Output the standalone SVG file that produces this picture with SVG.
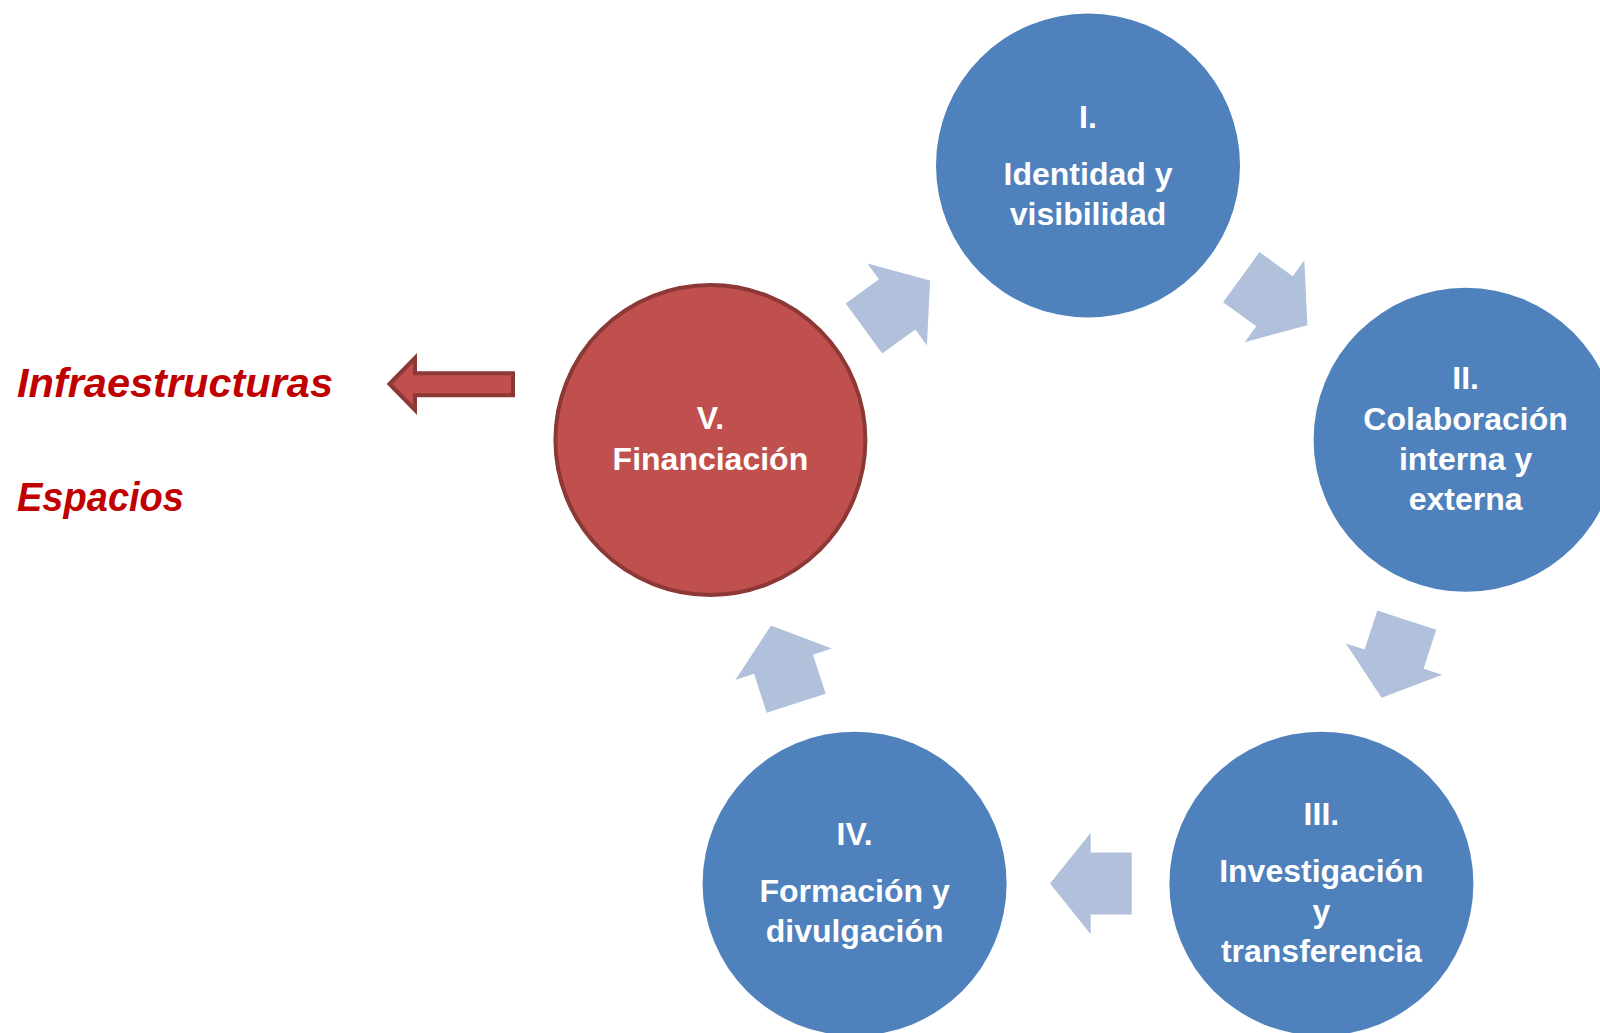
<svg xmlns="http://www.w3.org/2000/svg" xmlns:xlink="http://www.w3.org/1999/xlink" width="1600" height="1033" viewBox="0 0 1600 1033">
  <style>
    .node-blue { fill: #4F81BD; }
    .node-red { fill: #C0504D; stroke: #8C3836; stroke-width: 4; }
    .label { font-family: "Liberation Sans", Arial, sans-serif; font-weight: bold; font-size: 32px; fill: #FFFFFF; text-anchor: middle; }
    .side { font-family: "Liberation Sans", Arial, sans-serif; font-weight: bold; font-style: italic; font-size: 41.5px; fill: #C00000; }
    .cycle-arrow { fill: #B2C1DB; }
    .block-arrow { fill: #C0504D; stroke: #8C3836; stroke-width: 4; stroke-linejoin: miter; }
  </style>
  <defs>
    <!-- one cycle arrow, drawn at the bottom position; the others are rotations about the cycle centre -->
    <polygon id="cycleArrow" class="cycle-arrow" points="1050,883.5 1090.7,832.8 1090.7,852.5 1131.7,852.5 1131.7,914.5 1090.7,914.5 1090.7,934.2"/>
  </defs>
  <rect width="1600" height="1033" fill="#FFFFFF"/>

  <g id="connectors">
    <use xlink:href="#cycleArrow" href="#cycleArrow"/>
    <use xlink:href="#cycleArrow" href="#cycleArrow" transform="rotate(72 1088 562.5)"/>
    <use xlink:href="#cycleArrow" href="#cycleArrow" transform="rotate(144 1088 562.5)"/>
    <use xlink:href="#cycleArrow" href="#cycleArrow" transform="rotate(216 1088 562.5)"/>
    <use xlink:href="#cycleArrow" href="#cycleArrow" transform="rotate(288 1088 562.5)"/>
    <polygon id="arrow-financiacion" class="block-arrow" points="389.5,384 415,358 415,373.2 513,373.2 513,395.2 415,395.2 415,410"/>
  </g>

  <g id="node-1">
    <circle class="node-blue" cx="1088" cy="165.5" r="152"/>
    <text class="label" x="1088" y="128">I.</text>
    <text class="label" x="1088" y="185">Identidad y</text>
    <text class="label" x="1088" y="224.5">visibilidad</text>
  </g>

  <g id="node-2">
    <circle class="node-blue" cx="1465.6" cy="439.8" r="152"/>
    <text class="label" x="1465.6" y="389">II.</text>
    <text class="label" x="1465.6" y="430">Colaboración</text>
    <text class="label" x="1465.6" y="470">interna y</text>
    <text class="label" x="1465.6" y="510">externa</text>
  </g>

  <g id="node-3">
    <circle class="node-blue" cx="1321.4" cy="883.7" r="152"/>
    <text class="label" x="1321.4" y="824.5">III.</text>
    <text class="label" x="1321.4" y="881.5">Investigación</text>
    <text class="label" x="1321.4" y="921.5">y</text>
    <text class="label" x="1321.4" y="962">transferencia</text>
  </g>

  <g id="node-4">
    <circle class="node-blue" cx="854.6" cy="883.7" r="152"/>
    <text class="label" x="854.6" y="845">IV.</text>
    <text class="label" x="854.6" y="902">Formación y</text>
    <text class="label" x="854.6" y="941.5">divulgación</text>
  </g>

  <g id="node-5">
    <circle class="node-red" cx="710.4" cy="440" r="155"/>
    <text class="label" x="710.4" y="429">V.</text>
    <text class="label" x="710.4" y="470">Financiación</text>
  </g>

  <g id="side-labels">
    <text class="side" x="17" y="396.5">Infraestructuras</text>
    <text class="side" x="17" y="511" textLength="167" lengthAdjust="spacingAndGlyphs">Espacios</text>
  </g>
</svg>
